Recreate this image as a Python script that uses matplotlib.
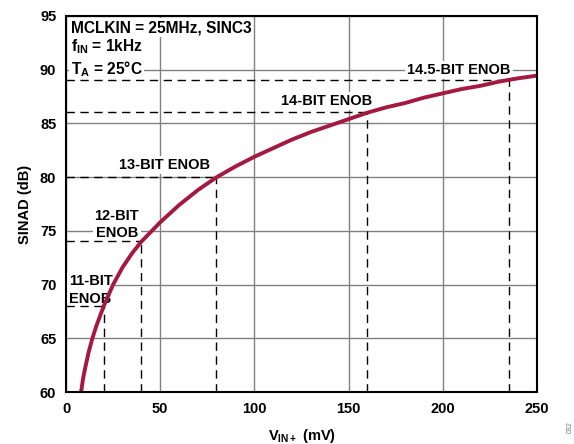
import matplotlib
matplotlib.use("Agg")
import matplotlib.pyplot as plt

plt.rcParams['font.family'] = ['Liberation Sans', 'DejaVu Sans']
plt.rcParams['font.weight'] = 'bold'
plt.rcParams['mathtext.fontset'] = 'custom'
plt.rcParams['mathtext.rm'] = 'Liberation Sans:bold'
plt.rcParams['mathtext.it'] = 'Liberation Sans:bold'
plt.rcParams['mathtext.bf'] = 'Liberation Sans:bold'

# SINAD vs input amplitude
vin_mv = [8, 9, 10, 12, 14, 16, 20, 25, 30, 35, 40, 50, 60, 70, 80, 90, 100,
          110, 120, 130, 140, 150, 160, 170, 180, 190, 200, 210, 220, 230,
          235, 240, 250]
sinad_db = [60.0, 61.2, 62.1, 63.7, 65.0, 66.1, 68.0, 70.0, 71.6, 72.9, 74.0,
            75.8, 77.4, 78.8, 80.0, 81.0, 81.9, 82.7, 83.5, 84.2, 84.8, 85.4,
            86.0, 86.5, 86.9, 87.4, 87.8, 88.2, 88.5, 88.9, 89.05, 89.2, 89.45]

# ENOB reference levels: (SINAD level, input where it is reached)
enob_sinad = [68.02, 74.02, 80.02, 86.04, 89.05]
enob_vin = [20, 40, 79.5, 160, 235]
enob_labels = ["11-BIT\nENOB", "12-BIT\nENOB", "13-BIT ENOB", "14-BIT ENOB",
               "14.5-BIT ENOB"]
label_xy = [(1.5, 69.5), (27.0, 75.6), (52.5, 81.1), (138.5, 87.1), (208.5, 90.0)]
label_ha = ["left", "center", "center", "center", "center"]

x_ticks = [0, 50, 100, 150, 200, 250]
y_ticks = [60, 65, 70, 75, 80, 85, 90, 95]

FS = 10.5

fig = plt.figure(figsize=(5.74, 4.44), dpi=100)
ax = fig.add_axes([0.115, 0.117, 0.8205, 0.847])

ax.set_xlim(0, 250)
ax.set_ylim(60, 95)
ax.set_xticks(x_ticks)
ax.set_yticks(y_ticks)
ax.tick_params(length=0, pad=7, labelsize=FS)
for lbl in ax.get_xticklabels() + ax.get_yticklabels():
    lbl.set_fontweight('bold')
ax.grid(True, color='#808080', linewidth=1.0, zorder=0.5)
ax.set_axisbelow(True)
for sp in ax.spines.values():
    sp.set_linewidth(1.5)
    sp.set_color('black')
    sp.set_zorder(6)

bbox_white = dict(facecolor='white', edgecolor='none', pad=1.5)

for lvl, xv in zip(enob_sinad, enob_vin):
    ax.plot([0, xv], [lvl, lvl], color='black', linewidth=1.0,
            dashes=(6, 4), zorder=3)
    ax.plot([xv, xv], [60, lvl], color='black', linewidth=1.0,
            dashes=(6, 4), zorder=3)

for txt, (tx, ty), ha in zip(enob_labels, label_xy, label_ha):
    ax.text(tx, ty, txt, ha=ha, va='center', fontsize=FS, fontweight='bold',
            multialignment='center' if ha == 'center' else 'left',
            linespacing=1.3, bbox=bbox_white, zorder=2)

ax.plot(vin_mv, sinad_db, color='#A3193F', linewidth=2.8, zorder=4,
        solid_capstyle='butt')

ax.text(2.5, 93.9, "MCLKIN = 25MHz, SINC3", ha='left', va='center',
        fontsize=11.2, fontweight='bold', bbox=bbox_white, zorder=2)
ax.text(2.5, 92.1, r"$\mathrm{f_{IN}}$ = 1kHz", ha='left', va='center',
        fontsize=11.2, fontweight='bold', bbox=bbox_white, zorder=2)
ax.text(2.5, 90.05, r"$\mathrm{T_{A}}$ = 25°C", ha='left', va='center',
        fontsize=11.2, fontweight='bold', bbox=bbox_white, zorder=2)

ax.set_xlabel(r"$\mathrm{V_{IN+}}$ (mV)", fontsize=FS, fontweight='bold',
              labelpad=8)
ax.set_ylabel("SINAD (dB)", fontsize=FS, fontweight='bold', labelpad=6)

fig.text(0.988, 0.025, "032", rotation=90, fontsize=5, color='#777777',
         fontweight='normal', ha='left', va='bottom')

fig.savefig("out.png", dpi=100)
